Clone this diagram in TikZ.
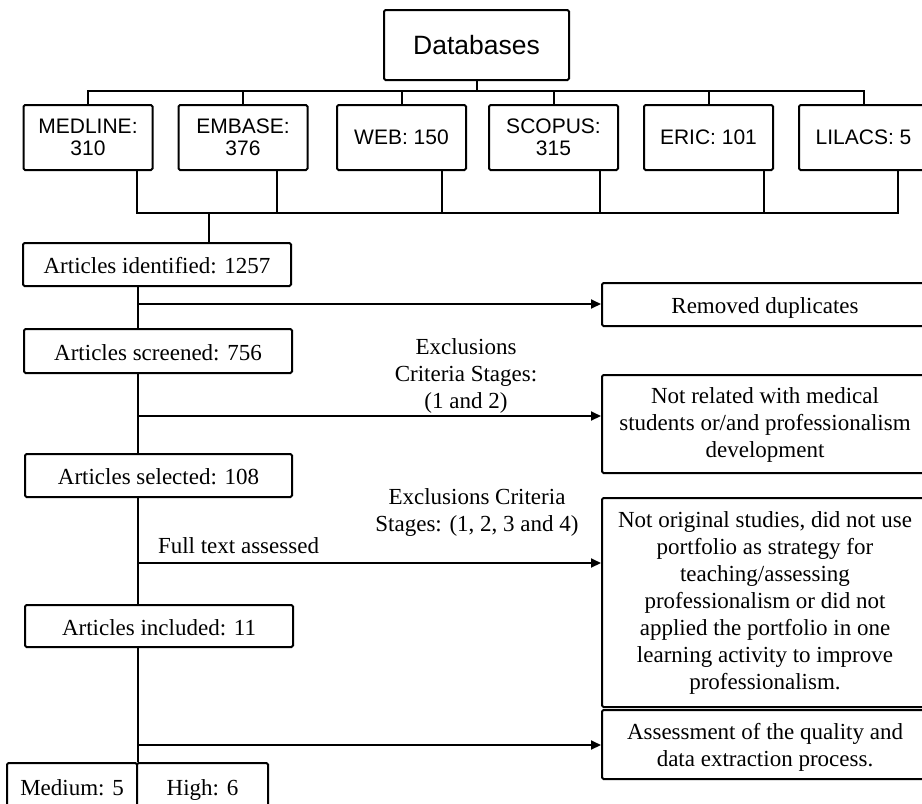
\documentclass[tikz,border=0pt]{standalone}
\usepackage{fontspec}
\setmainfont{Liberation Serif}
\newfontfamily\arialfont{Liberation Sans}
\usetikzlibrary{arrows.meta}
\begin{document}
\begin{tikzpicture}[x=1pt,y=-1pt,
  line width=2pt,
  box/.style={draw, fill=white, rounded corners=1.5pt, inner sep=0pt, align=center,
    font=\fontsize{23}{27}\selectfont},
  onel/.style={box, text height=18pt, text depth=0pt},
  dbbox/.style={draw, fill=white, rounded corners=1.5pt, inner sep=0pt, align=center,
    minimum width=129pt, minimum height=65pt, font=\arialfont\fontsize{21}{22}\selectfont},
  rbox/.style={box, minimum width=326pt},
  lbl/.style={align=center, inner sep=0pt, font=\fontsize{23}{27}\selectfont},
  arr/.style={-{Triangle[length=10pt,width=9pt]}},
]
\useasboundingbox (0,0) rectangle (922,804);
\clip (0,0) rectangle (922,804);

% top part
\node[box, minimum width=185pt, minimum height=70pt,
  font=\arialfont\fontsize{26.5}{30}\selectfont] (db) at (476.5,45) {Databases};
\node[dbbox] (med) at (88,137.5) {MEDLINE:\\310};
\node[dbbox] (emb) at (243,137.5) {EMBASE:\\376};
\node[dbbox] (web) at (401.5,137.5) {WEB: 150};
\node[dbbox] (sco) at (553.5,137.5) {SCOPUS:\\315};
\node[dbbox] (eric) at (708.5,137.5) {ERIC: 101};
\node[dbbox] (lil) at (863.5,137.5) {LILACS: 5};

\coordinate (tb) at (0,91);
\draw (db.south) -- (db.south |- tb);
\draw (med.north) -- (med.north |- tb) -- (lil.north |- tb) -- (lil.north);
\draw (emb.north) -- (emb.north |- tb);
\draw (web.north) -- (web.north |- tb);
\draw (sco.north) -- (sco.north |- tb);
\draw (eric.north) -- (eric.north |- tb);

\coordinate (b1) at (137,213);
\coordinate (b2) at (277,213);
\coordinate (b3) at (442,213);
\coordinate (b4) at (600,213);
\coordinate (b5) at (764,213);
\coordinate (b6) at (898,213);
\coordinate (bi) at (209,213);
\draw (b1 |- med.south) -- (b1) -- (b6) -- (b6 |- lil.south);
\draw (b2 |- emb.south) -- (b2);
\draw (b3 |- web.south) -- (b3);
\draw (b4 |- sco.south) -- (b4);
\draw (b5 |- eric.south) -- (b5);

% left column
\node[onel, minimum width=268pt, minimum height=43pt] (ident) at (157,264.5) {Articles identified: 1257};
\node[onel, minimum width=268pt, minimum height=44pt] (screened) at (158,351) {Articles screened: 756};
\node[onel, minimum width=267pt, minimum height=43pt] (selected) at (158.5,475.5) {Articles selected: 108};
\node[onel, minimum width=268pt, minimum height=42pt] (included) at (159,626) {Articles included: 11};
\node[onel, minimum width=130pt, minimum height=46pt] (medium) at (72,786) {Medium: 5};
\node[onel, minimum width=131pt, minimum height=46pt] (high) at (202.5,786) {High: 6};

\draw (bi) -- (bi |- ident.north);

% right column
\node[rbox, onel, minimum height=43pt] (rem) at (765,304.5) {Removed duplicates};
\node[rbox, minimum height=98pt] (notrel) at (765,424) {\rule{0pt}{18pt}Not related with medical\\students or/and professionalism\\development};
\node[rbox, minimum height=209pt] (crit) at (765,602.5) {Not original studies, did not use\\portfolio as strategy for\\teaching/assessing\\professionalism or did not\\applied the portfolio in one\\learning activity to improve\\professionalism.};
\node[rbox, minimum height=69pt] (qual) at (765,744.5) {\rule{0pt}{22pt}Assessment of the quality and\\data extraction process.};

% spine
\coordinate (s1) at (138,304);
\coordinate (s2) at (138,416);
\coordinate (s3) at (138,563);
\coordinate (s4) at (138,745);
\draw (ident.south -| s1) -- (screened.north -| s1);
\draw (screened.south -| s1) -- (selected.north -| s1);
\draw (selected.south -| s1) -- (included.north -| s1);
\draw (included.south -| s1) -- (medium.north east);

\draw[arr] (s1) -- (s1 -| rem.west);
\draw[arr] (s2) -- (s2 -| notrel.west);
\draw[arr] (s3) -- (s3 -| crit.west);
\draw[arr] (s4) -- (s4 -| qual.west);

% labels
\node[lbl] (ex1) at (466,376) {Exclusions\\Criteria Stages:\\(1 and 2)};
\node[lbl] (ex2) at (477,512) {Exclusions Criteria\\Stages: (1, 2, 3 and 4)};
\node[lbl, anchor=west] (fta) at (157,546) {Full text assessed};
\end{tikzpicture}
\end{document}
